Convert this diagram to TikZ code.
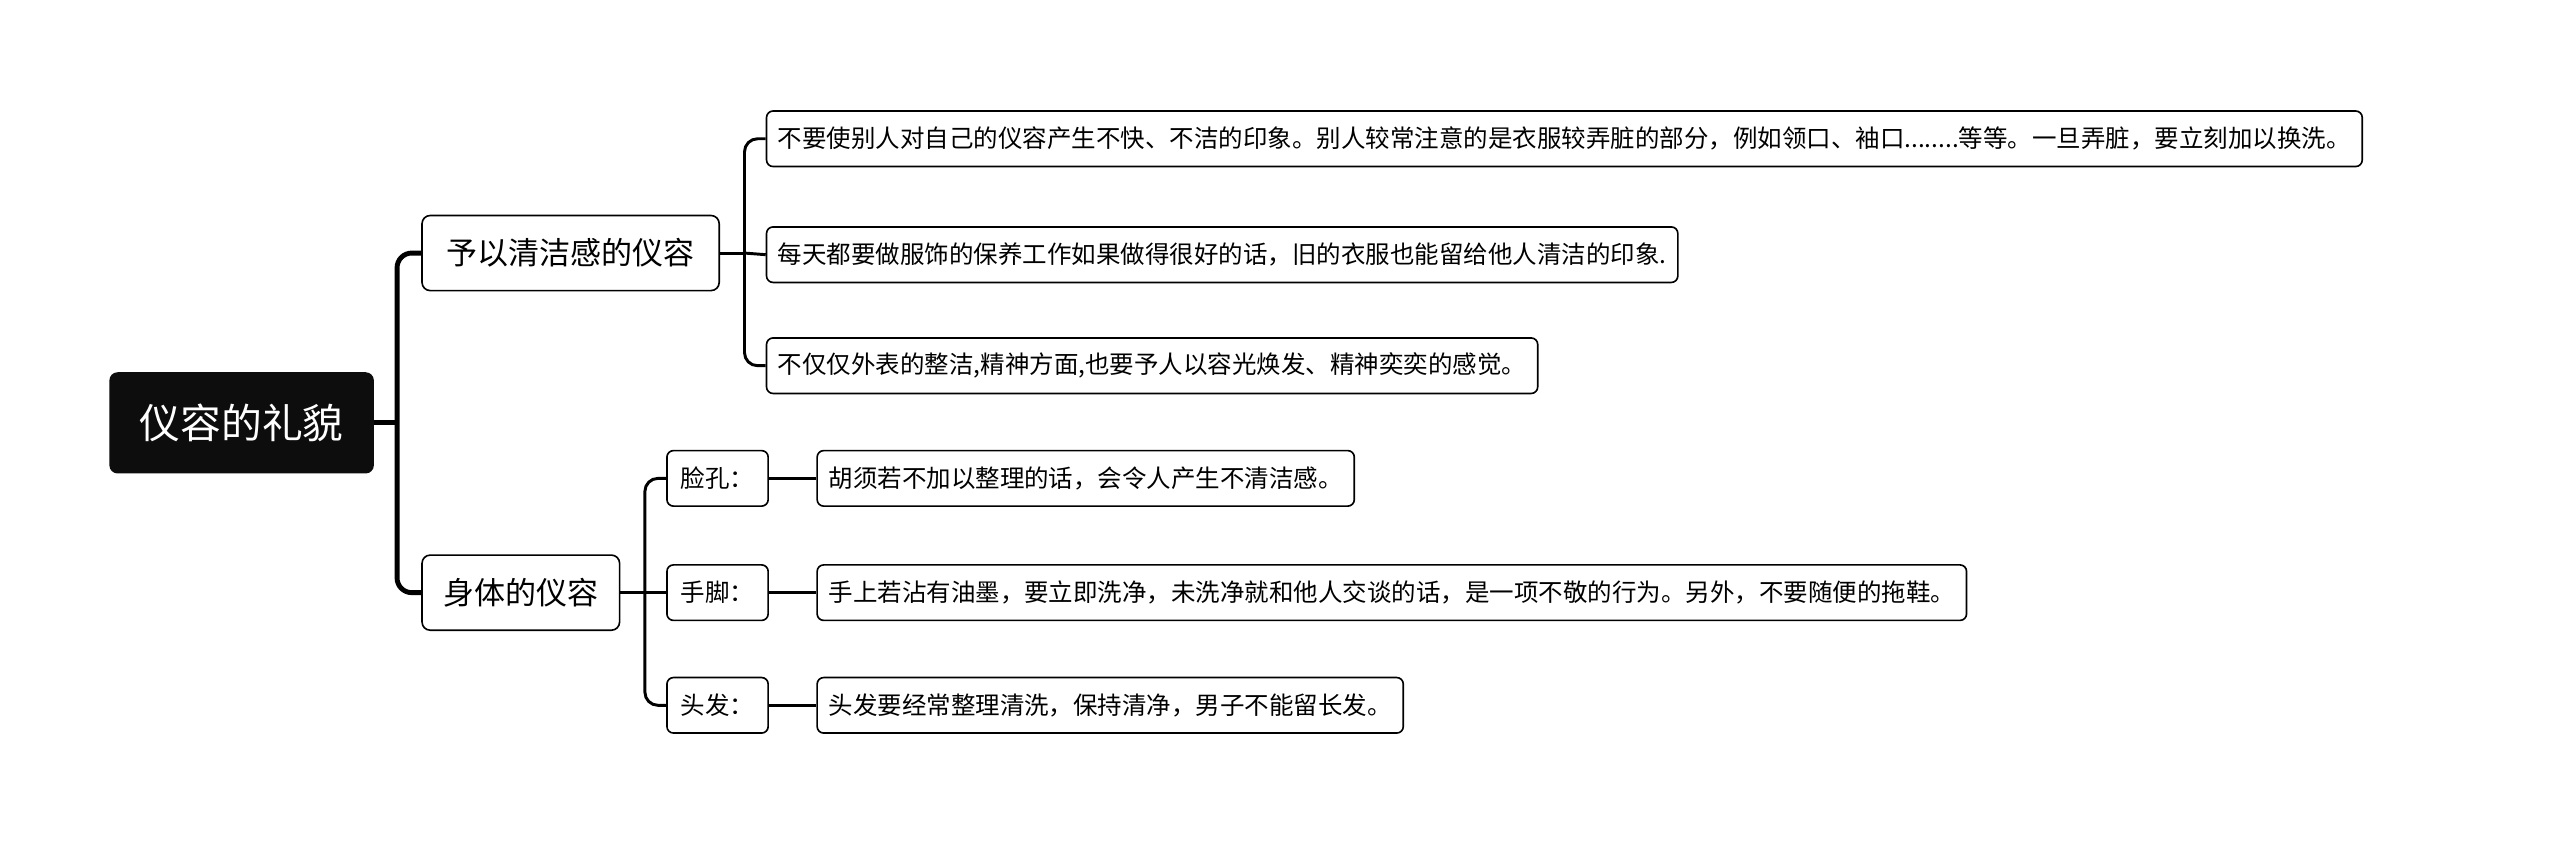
\documentclass[tikz,border=0pt]{standalone}
\usepackage{fontspec}
\setmainfont{Noto Sans CJK SC}
\begin{document}
\begin{tikzpicture}[x=1pt,y=-1pt,
 leaf/.style={draw,rounded corners=4pt,line width=1pt,anchor=west,inner xsep=7pt,minimum height=34pt,font=\fontsize{15}{18}\selectfont},
 mid/.style={draw,rounded corners=5pt,line width=1pt,anchor=west,inner xsep=10pt,minimum height=46pt,font=\fontsize{19}{22}\selectfont},
 conn/.style={line width=3pt,rounded corners=9pt},
 thin/.style={line width=1.8pt,rounded corners=8pt}]
\useasboundingbox (0,0) rectangle (1568,518);
\node[fill=black!95,text=white,rounded corners=5pt,minimum width=162pt,minimum height=62pt,font=\fontsize{25}{28}\selectfont] (root) at (148,259) {仪容的礼貌};
\node[mid,minimum width=182pt] (A) at (258,155) {予以清洁感的仪容};
\node[mid,minimum width=121pt] (B) at (258,363) {身体的仪容};
\node[leaf] (L1) at (469,85) {不要使别人对自己的仪容产生不快、不洁的印象。别人较常注意的是衣服较弄脏的部分，例如领口、袖口........等等。一旦弄脏，要立刻加以换洗。};
\node[leaf] (L2) at (469,156) {每天都要做服饰的保养工作如果做得很好的话，旧的衣服也能留给他人清洁的印象.};
\node[leaf] (L3) at (469,224) {不仅仅外表的整洁,精神方面,也要予人以容光焕发、精神奕奕的感觉。};
\node[leaf,minimum width=62pt] (C1) at (408,293) {脸孔：};
\node[leaf,minimum width=62pt] (C2) at (408,363) {手脚：};
\node[leaf,minimum width=62pt] (C3) at (408,432) {头发：};
\node[leaf] (M1) at (500,293) {胡须若不加以整理的话，会令人产生不清洁感。};
\node[leaf] (M2) at (500,363) {手上若沾有油墨，要立即洗净，未洗净就和他人交谈的话，是一项不敬的行为。另外，不要随便的拖鞋。};
\node[leaf] (M3) at (500,432) {头发要经常整理清洗，保持清净，男子不能留长发。};
\draw[conn] (root.east) -- ++(14,0) coordinate (r1);
\draw[conn] (r1) |- (A.west);
\draw[conn] (r1) |- (B.west);
\draw[thin] (A.east) -- ++(15,0) coordinate (a1);
\draw[thin] (a1) |- (L1.west);
\draw[thin] (a1) -- (L2.west);
\draw[thin] (a1) |- (L3.west);
\draw[thin] (B.east) -- ++(15,0) coordinate (b1);
\draw[thin] (b1) |- (C1.west);
\draw[thin] (b1) -- (C2.west);
\draw[thin] (b1) |- (C3.west);
\draw[thin] (C1.east) -- (M1.west);
\draw[thin] (C2.east) -- (M2.west);
\draw[thin] (C3.east) -- (M3.west);
\end{tikzpicture}
\end{document}
